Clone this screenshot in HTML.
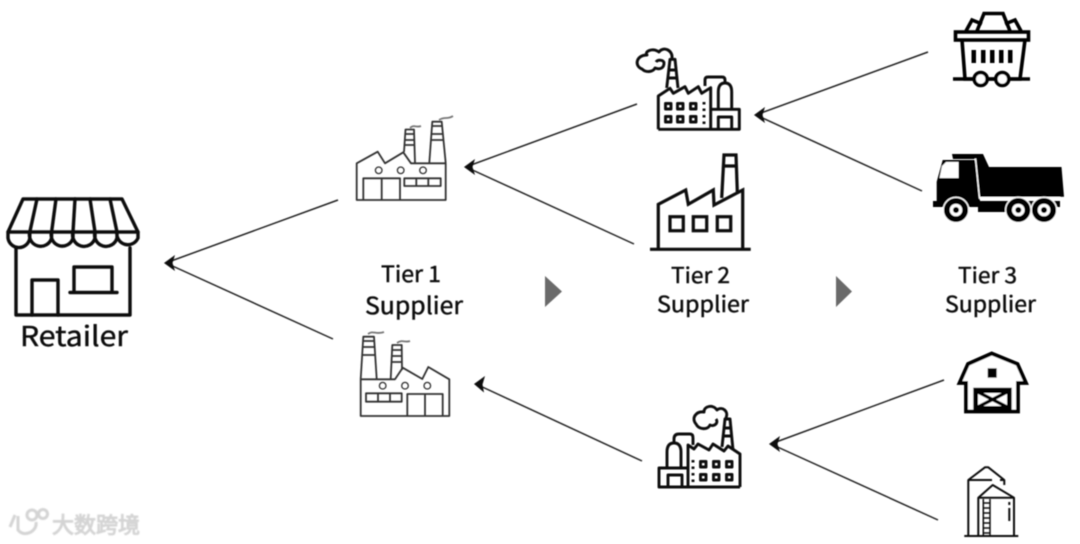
<!DOCTYPE html>
<html><head><meta charset="utf-8"><style>
html,body{margin:0;padding:0;background:#fff}
svg{display:block}
text{font-family:"Noto Sans CJK JP","Liberation Sans",sans-serif;fill:#111;stroke:#111;stroke-width:.45px}
</style></head><body>
<svg width="1080" height="544" viewBox="0 0 1080 544" xmlns="http://www.w3.org/2000/svg">
<defs>
<filter id="b"><feGaussianBlur stdDeviation="0.4"/></filter>
<filter id="w"><feGaussianBlur stdDeviation="0.7"/></filter>
</defs>
<rect width="1080" height="544" fill="#fff"/>
<g filter="url(#b)">
<!-- Retailer -->
<g fill="none" stroke="#111" stroke-width="3.400" stroke-linejoin="round" stroke-linecap="round">
<path d="M23 199H122L138 232H8Z"/>
<path d="M8 232V238A11 11 0 0 0 29.800 238V232A11 11 0 0 0 51.600 238V232A11 11 0 0 0 73 238V232A11 11 0 0 0 95 238V232A11 11 0 0 0 117 238V232A11 11 0 0 0 138 238V232"/>
<path d="M37 199L29.800 232M56 199L51.600 232M75 199L73 232M90 199L95 232M110 199L117 232"/>
<path d="M16 248V315H130V248"/>
<path d="M32 315V280H58V315"/>
<path d="M74 292V267H112V292M70 292.500H117"/>
</g>
<text x="20" y="346" font-size="27.500" textLength="108" lengthAdjust="spacingAndGlyphs">Retailer</text>

<!-- Tier 1 top factory -->
<g fill="none" stroke="#333" stroke-width="1.800" stroke-linejoin="round">
<path d="M356.700 200V163.300L377.700 151.700L385 163.300L403.300 152.300L411 163.300H445.700V200Z"/>
<path d="M404 152L405.500 129.500H414L415 163M429.300 163L432.300 121.700H441.700L445.700 163"/>
<path d="M405 134H414M404.500 140H414.500M404.500 145H414.500M432 126H442M431.500 134H443M431 140H443.500"/>
<circle cx="378.700" cy="170.300" r="3.300" stroke-width="1.300"/><circle cx="400.700" cy="170.300" r="3.300" stroke-width="1.300"/><circle cx="423" cy="170.300" r="3.300" stroke-width="1.300"/>
<path d="M363.300 200V178.300H400V200M381.700 178.300V200"/>
<rect x="404.300" y="178.300" width="36.400" height="7.700"/>
<path d="M416.300 178.300V186M428.300 178.300V186"/>
<path d="M410 128C414 124 416 128 421 126M439 120C445 116 447 120 453 116" stroke="#777"/>
</g>
<!-- Tier 1 bottom factory -->
<g fill="none" stroke="#333" stroke-width="1.800" stroke-linejoin="round">
<path d="M360.700 416V379.300H395L402.700 367.700L422.300 379L428.300 367L449.300 379.300V416Z"/>
<path d="M360.700 379L363.300 336.700H374L376.700 379M390.700 379L392.300 345H401.700L402 370"/>
<path d="M363 341H374M362.500 347H375M362 355H375.500M392 350H402M392 356H402M391.500 362H402"/>
<circle cx="382.700" cy="385.700" r="3.300" stroke-width="1.300"/><circle cx="405" cy="385.700" r="3.300" stroke-width="1.300"/><circle cx="427.300" cy="385.700" r="3.300" stroke-width="1.300"/>
<rect x="366" y="393.300" width="35.700" height="8.400"/>
<path d="M378 393.300V401.700M390 393.300V401.700"/>
<path d="M407.300 416V394H442.700V416M425 394V416"/>
<path d="M368 334C373 330 376 335 384 332M397 343C402 339 405 343 410 341" stroke="#777"/>
</g>

<!-- Tier 2 top factory -->
<g fill="none" stroke="#0a0a0a" stroke-width="2.900" stroke-linejoin="round">
<path d="M658.300 129.300H739.300V109.300H710.700"/>
<path d="M658.300 129.300V96L670 88.300L673.300 93.300L685 86.700L688.300 93.300L698.300 86.700L701.700 93.300L710.700 87.700V129.300"/>
<path d="M666.700 88L670 59.300H675L678 88M668 70H677M667.500 78H678"/>
<path d="M705 86V80Q705 77 708 77H722Q725 77 725 80V84"/>
<path d="M718.300 109V92Q718.300 83 725 83Q731.700 83 731.700 92V109"/>
<path d="M718.300 129.300V117H731.700V129.300"/>
<path d="M672 58C673 50 663 46 659 52C652 47 644 52 647 55C636 55 634 66 642 69C646 73 653 72 655 68C660 70 664 68 664 63C664 60 658 59 656 62"/>
<rect x="665.500" y="103.500" width="5.500" height="5.500"/><rect x="677.500" y="103.500" width="5.500" height="5.500"/><rect x="690.500" y="103.500" width="5.500" height="5.500"/>
<rect x="665.500" y="116.500" width="5.500" height="5.500"/><rect x="677.500" y="116.500" width="5.500" height="5.500"/><rect x="690.500" y="116.500" width="5.500" height="5.500"/>
<path d="M704 102V125" stroke-dasharray="2.500 4"/>
</g>
<!-- Tier 2 large factory -->
<g fill="none" stroke="#0a0a0a" stroke-width="3.200" stroke-linejoin="miter">
<path d="M650 249.300H750.700"/>
<path d="M658.300 249.300V204.300L685.700 190L688.300 204.300L713.300 190L714 205L742.700 190V249.300"/>
<path d="M721.700 198L724 155H736L737.300 191.700M723.500 166H736.500"/>
<rect x="670" y="216.700" width="13.300" height="14"/><rect x="693.300" y="216.700" width="13.400" height="14"/><rect x="717.300" y="216.700" width="13.400" height="14"/>
</g>
<!-- Tier 2 bottom factory -->
<g fill="none" stroke="#0a0a0a" stroke-width="2.900" stroke-linejoin="round">
<path d="M740 487H659V468H688"/>
<path d="M740 487V454L728 446L724 451L713 444L709 450L698 444L694 449L688 445V487"/>
<path d="M722 447L725 419H730L733 450M724 428H732M723 436H733"/>
<path d="M667 468V452Q667 443 674 443Q681 443 681 452V468"/>
<path d="M674 442V439Q674 434 679 434H690Q693 434 693 438V445"/>
<path d="M668 487V475H682V487"/>
<path d="M726 418C729 411 722 406 717 410C713 404 704 406 704 412C696 411 691 418 696 424C699 430 708 430 710 425C714 427 719 423 716 419"/>
<rect x="700.500" y="461.500" width="5.500" height="5.500"/><rect x="713.500" y="461.500" width="5.500" height="5.500"/><rect x="726.500" y="461.500" width="5.500" height="5.500"/>
<rect x="700.500" y="474.500" width="5.500" height="5.500"/><rect x="713.500" y="474.500" width="5.500" height="5.500"/><rect x="726.500" y="474.500" width="5.500" height="5.500"/>
<path d="M693 460V484" stroke-dasharray="2.500 4"/>
</g>

<!-- Coal cart -->
<g fill="none" stroke="#050505" stroke-width="3.600" stroke-linejoin="miter">
<rect x="955.500" y="32" width="73" height="8"/>
<path d="M962 40L965 79H1020L1025 40"/>
<path d="M953 79H973M988 79H995M1010 79H1030" stroke-width="3.500"/>
<circle cx="980.700" cy="79" r="6.500" fill="#fff"/><circle cx="1002.300" cy="79" r="6.500" fill="#fff"/>
<path d="M977 31L984 13.500H1003L1010 31"/>
<path d="M966 31L972 20L982 24M1005 24L1015 20L1021 31"/>
</g>
<g fill="#050505"><rect x="971.500" y="50" width="4.500" height="13"/><rect x="981" y="50" width="4.500" height="13"/><rect x="990" y="50" width="4.500" height="13"/><rect x="999" y="50" width="4.500" height="13"/><rect x="1008" y="50" width="4.500" height="13"/></g>

<!-- Truck -->
<g fill="#050505">
<path d="M952 154H983L989 167H1061.500L1064 196.700H978L975 159H953Z"/>
<path d="M936.700 201V181.700L942.700 160H975L980 201Z"/>
<path d="M933 201H1060V207H1056V212H978V207H933Z"/>
<path d="M946 162H958.500V178H939.500L942 166Z" fill="#fff"/>
<path d="M975.500 158.500L979.500 198H1060" fill="none" stroke="#fff" stroke-width="1.400"/>
</g>
<g stroke="#fff" stroke-width="1.300" fill="#050505">
<circle cx="956" cy="210" r="12.700"/><circle cx="1018.300" cy="210" r="12.700"/><circle cx="1044" cy="210" r="12.700"/>
</g>
<g fill="#fff"><circle cx="956" cy="210" r="6.300"/><circle cx="1018.300" cy="210" r="6.300"/><circle cx="1044" cy="210" r="6.300"/></g>
<g fill="#050505"><circle cx="956" cy="210" r="3"/><circle cx="1018.300" cy="210" r="3"/><circle cx="1044" cy="210" r="3"/></g>

<!-- Barn -->
<path d="M959.500 383L968 364L991.700 353.500L1017.500 364L1026 383H1018V411.500H966V383Z" fill="#fff" stroke="#050505" stroke-width="3.800" stroke-linejoin="miter"/>
<rect x="987.700" y="368.300" width="9" height="9.400" fill="#050505"/>
<rect x="973.300" y="387.700" width="38.400" height="23" fill="#050505"/>
<path d="M978 393H1007V406H978Z" fill="#fff"/>
<path d="M976 391L1009 408M1009 391L976 408" stroke="#050505" stroke-width="3.500"/>

<!-- Silo -->
<g fill="none" stroke="#111" stroke-width="2" stroke-linejoin="round">
<path d="M964.300 536H1018.300"/>
<path d="M968.300 536V480L985 467.300H988.300L1004.300 480V485M968.300 480H992M1000 480H1004.300"/>
<path d="M978.300 536V497.700L992.700 485L1014 497.700V536M978.300 497.700H1014"/>
<path d="M983.300 499V536M990 499V536M983.300 503H990M983.300 508H990M983.300 513H990M983.300 518H990M983.300 523H990M983.300 528H990M983.300 533H990" stroke-width="1.500"/>
<path d="M1009.300 502V505M1009.300 508V521"/>
</g>

<!-- Connectors -->
<g stroke="#222" stroke-width="1.500" fill="none">
<path d="M338 200L167 262.500M333 339L167 263.500"/>
<path d="M637 104L467 166.500M634 244L467 167.500"/>
<path d="M928 52L757 114.500M922 191L757 115.500"/>
<path d="M642 461L477 384.500"/>
<path d="M944 380L772 443.500M938 520L772 444.500"/>
</g>
<g fill="#0a0a0a">
<path d="M164 263L175 255L172.500 263L175 271Z"/>
<path d="M464 167L475 159L472.500 167L475 175Z"/>
<path d="M754 115L765 107L762.500 115L765 123Z"/>
<path d="M474 384L485 376L482.500 384.500L484 392.500Z"/>
<path d="M769 444L780 436L777.500 444L780 452Z"/>
</g>

<!-- Gray triangles -->
<path d="M545 276L562 291.500L545 307Z" fill="#6b6b6b"/>
<path d="M836 276L852 291.500L836 307Z" fill="#6b6b6b"/>

<!-- Labels -->
<text x="381" y="282" font-size="22.500" textLength="60" lengthAdjust="spacingAndGlyphs">Tier 1</text>
<text x="365" y="314" font-size="23.500" textLength="98" lengthAdjust="spacingAndGlyphs">Supplier</text>
<text x="671" y="283" font-size="21.500" textLength="59" lengthAdjust="spacingAndGlyphs">Tier 2</text>
<text x="657" y="312" font-size="22" textLength="92" lengthAdjust="spacingAndGlyphs">Supplier</text>
<text x="958" y="283" font-size="21.500" textLength="59" lengthAdjust="spacingAndGlyphs">Tier 3</text>
<text x="945" y="312" font-size="22" textLength="91" lengthAdjust="spacingAndGlyphs">Supplier</text>
</g>

<!-- Watermark -->
<g filter="url(#w)">
<g fill="none" stroke="#d4d4d4" stroke-width="3">
<path d="M15 515L10 527M18 516V530Q23 536 31 532Q37 528 36 522"/>
<circle cx="32" cy="515" r="5"/><circle cx="43" cy="514" r="4.500"/>
</g>
<text x="52" y="533" font-size="22" textLength="88" style="fill:#d4d4d4;stroke:#d4d4d4;stroke-width:1px;font-family:'Noto Sans CJK SC','Liberation Sans',sans-serif">大数跨境</text>
</g>
</svg>
</body></html>
